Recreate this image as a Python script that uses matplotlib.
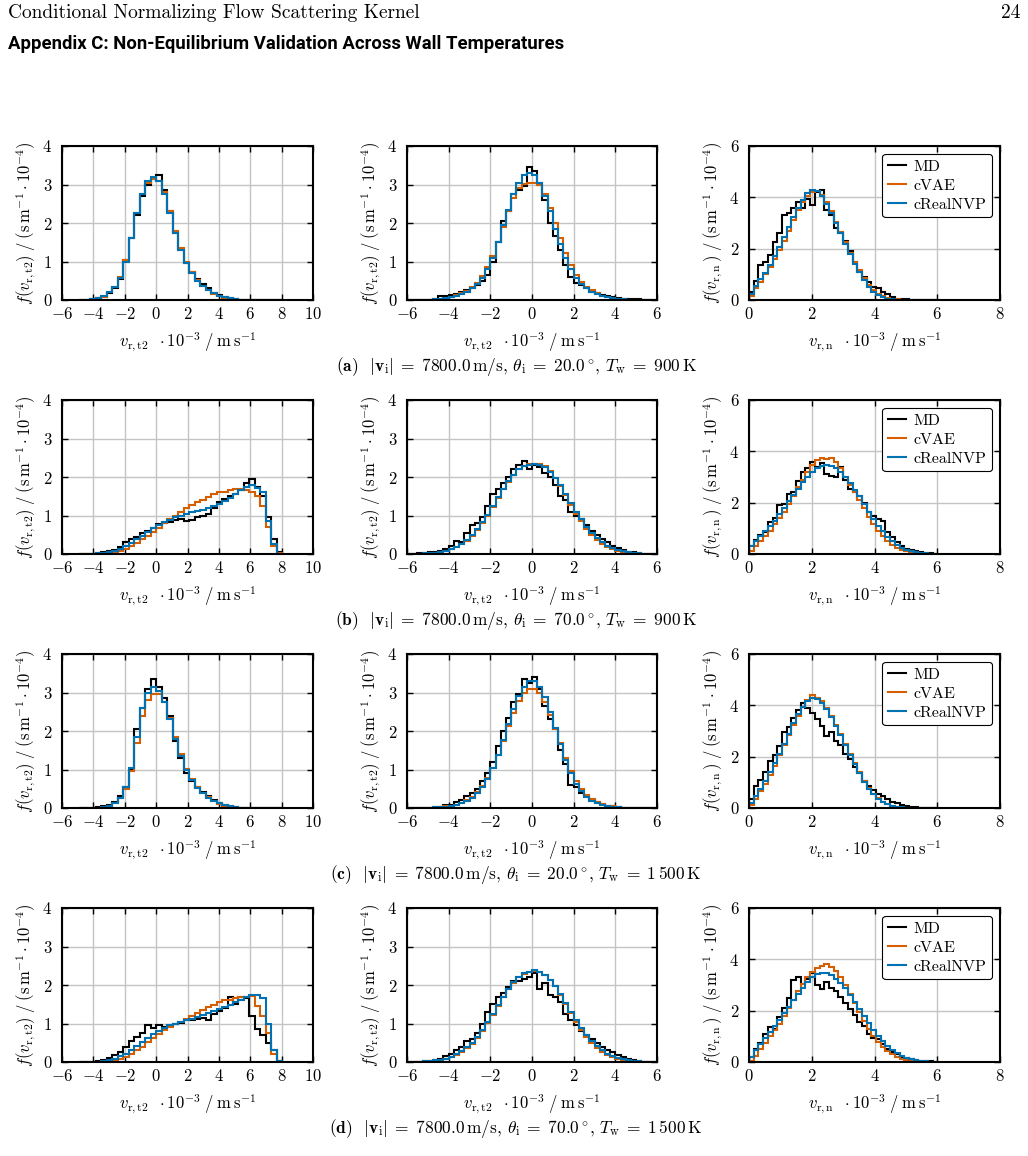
import numpy as np
import matplotlib
matplotlib.use("Agg")
import matplotlib.pyplot as plt

plt.rcParams['font.family'] = 'serif'
plt.rcParams['font.serif'] = ['cmr10']
plt.rcParams['mathtext.fontset'] = 'cm'
plt.rcParams['axes.formatter.use_mathtext'] = True
plt.rcParams['axes.unicode_minus'] = True

# bin edges of the histograms (in 10^3 m/s)
edges_c1 = np.linspace(-4.9, 8.05, 38)
edges_c2 = np.linspace(-6.0, 6.0, 49)
edges_c3 = np.linspace(0.0, 6.0, 41)

# ---- (a) 7800 m/s, 20 deg, 900 K
md_c1_a = [0.0, 0.01, 0.02, 0.04, 0.08, 0.18, 0.32, 0.55, 1.05, 1.6, 2.2, 2.7, 3.0, 3.15, 3.25, 2.85, 2.3, 1.75, 1.3,
           0.95, 0.72, 0.55, 0.42, 0.3, 0.18, 0.12, 0.07, 0.05, 0.02, 0.01, 0, 0, 0, 0, 0, 0, 0]
cvae_c1_a = [0, 0.01, 0.02, 0.04, 0.09, 0.2, 0.35, 0.6, 1.05, 1.6, 2.25, 2.75, 3.05, 3.15, 3.1, 2.8, 2.3, 1.8, 1.35,
             1.0, 0.72, 0.52, 0.37, 0.25, 0.16, 0.1, 0.06, 0.03, 0.015, 0.005, 0, 0, 0, 0, 0, 0, 0]
nvp_c1_a = [0, 0.01, 0.02, 0.05, 0.1, 0.2, 0.33, 0.58, 1.0, 1.6, 2.25, 2.75, 3.1, 3.2, 3.1, 2.75, 2.25, 1.75, 1.3,
            0.95, 0.7, 0.5, 0.36, 0.25, 0.17, 0.11, 0.07, 0.04, 0.02, 0.01, 0, 0, 0, 0, 0, 0, 0]
md_c2_a = [0, 0, 0.005, 0.01, 0.01, 0.02, 0.1, 0.1, 0.12, 0.15, 0.22, 0.25, 0.3, 0.38, 0.5, 0.65, 1.0, 1.5, 2.05, 2.3,
           2.75, 2.85, 2.95, 3.45, 3.35, 3.05, 2.6, 2.0, 1.65, 1.3, 0.9, 0.6, 0.45, 0.4, 0.3, 0.22, 0.18, 0.12, 0.1,
           0.08, 0.05, 0.02, 0.02, 0.03, 0.02, 0.005, 0, 0]
cvae_c2_a = [0, 0, 0, 0.005, 0.01, 0.02, 0.03, 0.05, 0.08, 0.12, 0.17, 0.24, 0.33, 0.45, 0.62, 0.85, 1.15, 1.5, 1.9,
             2.3, 2.65, 2.9, 3.02, 3.05, 3.05, 2.98, 2.75, 2.4, 2.0, 1.6, 1.22, 0.9, 0.65, 0.48, 0.35, 0.25, 0.17,
             0.11, 0.07, 0.05, 0.03, 0.02, 0.01, 0.005, 0, 0, 0, 0]
nvp_c2_a = [0, 0, 0, 0.005, 0.01, 0.02, 0.03, 0.04, 0.07, 0.11, 0.16, 0.22, 0.3, 0.42, 0.58, 0.8, 1.1, 1.5, 1.95, 2.35,
            2.75, 3.05, 3.25, 3.3, 3.25, 3.05, 2.7, 2.3, 1.85, 1.45, 1.1, 0.8, 0.58, 0.42, 0.3, 0.22, 0.15, 0.1, 0.07,
            0.045, 0.03, 0.02, 0.01, 0.005, 0, 0, 0, 0]
md_c3_a = [0.3, 0.75, 1.35, 1.5, 1.75, 2.25, 2.6, 3.3, 3.4, 3.6, 3.8, 3.6, 3.95, 3.7, 4.2, 4.3, 3.5, 3.3, 2.8, 2.6,
           2.3, 1.9, 1.5, 1.1, 0.9, 0.7, 0.5, 0.45, 0.3, 0.25, 0.1, 0.05, 0.03, 0.02, 0.01, 0, 0, 0, 0, 0]
cvae_c3_a = [0.15, 0.45, 0.7, 1.0, 1.3, 1.6, 1.95, 2.3, 2.7, 3.1, 3.5, 3.8, 4.05, 4.2, 4.25, 4.1, 3.8, 3.45, 3.05,
             2.65, 2.25, 1.85, 1.5, 1.15, 0.85, 0.6, 0.4, 0.25, 0.15, 0.08, 0.04, 0.02, 0.01, 0, 0, 0, 0, 0, 0, 0]
nvp_c3_a = [0.25, 0.55, 0.8, 1.05, 1.35, 1.7, 2.05, 2.45, 2.85, 3.25, 3.6, 3.9, 4.15, 4.3, 4.25, 4.05, 3.75, 3.4, 3.0,
            2.6, 2.2, 1.8, 1.42, 1.08, 0.78, 0.52, 0.32, 0.18, 0.1, 0.05, 0.02, 0.01, 0, 0, 0, 0, 0, 0, 0, 0]

# ---- (b) 7800 m/s, 70 deg, 900 K
md_c1_b = [0, 0.005, 0.01, 0.03, 0.05, 0.07, 0.1, 0.18, 0.3, 0.38, 0.45, 0.55, 0.6, 0.68, 0.78, 0.8, 0.82, 0.88, 0.92,
           0.87, 0.88, 0.95, 1.0, 1.05, 1.2, 1.35, 1.42, 1.5, 1.55, 1.65, 1.85, 1.95, 1.75, 1.5, 0.95, 0.4, 0.06]
cvae_c1_b = [0, 0, 0.005, 0.01, 0.02, 0.03, 0.05, 0.08, 0.12, 0.2, 0.28, 0.38, 0.48, 0.58, 0.68, 0.8, 0.9, 1.0, 1.1,
             1.2, 1.28, 1.35, 1.4, 1.48, 1.55, 1.6, 1.6, 1.65, 1.68, 1.7, 1.65, 1.6, 1.5, 1.25, 0.7, 0.2, 0.03]
nvp_c1_b = [0, 0, 0.005, 0.02, 0.03, 0.05, 0.08, 0.12, 0.2, 0.28, 0.38, 0.48, 0.58, 0.68, 0.76, 0.82, 0.88, 0.95, 1.0,
            1.03, 1.08, 1.12, 1.15, 1.2, 1.25, 1.3, 1.38, 1.45, 1.55, 1.65, 1.75, 1.78, 1.72, 1.6, 0.85, 0.25, 0.0]
md_c2_b = [0, 0.01, 0.02, 0.03, 0.04, 0.06, 0.08, 0.12, 0.2, 0.35, 0.3, 0.55, 0.75, 0.8, 0.95, 1.25, 1.55, 1.7, 1.85,
           2.0, 2.2, 2.3, 2.42, 2.2, 2.3, 2.25, 2.1, 2.0, 1.8, 1.5, 1.4, 1.1, 1.0, 0.9, 0.75, 0.6, 0.5, 0.38, 0.3,
           0.22, 0.16, 0.1, 0.06, 0.04, 0.02, 0.01, 0, 0]
cvae_c2_b = [0, 0, 0.01, 0.015, 0.02, 0.03, 0.05, 0.08, 0.12, 0.18, 0.25, 0.35, 0.47, 0.62, 0.8, 1.0, 1.22, 1.45,
             1.68, 1.88, 2.05, 2.2, 2.28, 2.33, 2.35, 2.35, 2.28, 2.15, 1.98, 1.76, 1.52, 1.28, 1.05, 0.85, 0.66, 0.5,
             0.37, 0.27, 0.19, 0.13, 0.08, 0.05, 0.03, 0.02, 0.01, 0.005, 0, 0]
nvp_c2_b = [0, 0, 0.01, 0.015, 0.025, 0.035, 0.055, 0.085, 0.13, 0.19, 0.27, 0.37, 0.49, 0.64, 0.82, 1.02, 1.24, 1.47,
            1.7, 1.9, 2.06, 2.2, 2.28, 2.32, 2.33, 2.32, 2.25, 2.13, 1.97, 1.78, 1.56, 1.33, 1.1, 0.9, 0.71, 0.55,
            0.42, 0.31, 0.22, 0.15, 0.1, 0.07, 0.045, 0.03, 0.02, 0.01, 0.005, 0]
md_c3_b = [0.3, 0.55, 0.75, 0.85, 1.25, 1.4, 1.9, 1.95, 2.35, 2.4, 2.85, 3.2, 3.35, 3.6, 3.4, 3.55, 3.1, 3.05, 3.0,
           3.4, 2.9, 2.55, 2.4, 2.25, 2.0, 1.65, 1.5, 1.35, 1.3, 0.85, 0.65, 0.45, 0.3, 0.2, 0.15, 0.1, 0.07, 0.05,
           0.02, 0.01]
cvae_c3_b = [0.1, 0.3, 0.5, 0.7, 0.9, 1.15, 1.4, 1.65, 1.95, 2.25, 2.6, 2.9, 3.2, 3.45, 3.65, 3.75, 3.72, 3.75, 3.6,
             3.35, 3.0, 2.7, 2.4, 2.1, 1.8, 1.45, 1.15, 0.9, 0.7, 0.5, 0.35, 0.25, 0.16, 0.1, 0.06, 0.03, 0.02, 0.01,
             0, 0]
nvp_c3_b = [0.3, 0.5, 0.7, 0.9, 1.1, 1.3, 1.55, 1.8, 2.05, 2.3, 2.55, 2.8, 3.0, 3.2, 3.35, 3.42, 3.45, 3.42, 3.35,
            3.2, 3.0, 2.75, 2.5, 2.25, 1.95, 1.65, 1.35, 1.1, 0.88, 0.68, 0.5, 0.36, 0.25, 0.17, 0.11, 0.07, 0.04,
            0.02, 0.01, 0]

# ---- (c) 7800 m/s, 20 deg, 1500 K
md_c1_c = [0, 0.005, 0.01, 0.02, 0.04, 0.08, 0.15, 0.3, 0.55, 1.0, 2.05, 2.6, 3.1, 3.35, 3.15, 2.85, 2.4, 1.75, 1.3,
           0.9, 0.7, 0.55, 0.42, 0.3, 0.2, 0.12, 0.07, 0.04, 0.02, 0.01, 0, 0, 0, 0, 0, 0, 0]
cvae_c1_c = [0, 0, 0.005, 0.01, 0.03, 0.06, 0.12, 0.25, 0.5, 0.95, 1.7, 2.4, 2.8, 2.95, 2.95, 2.75, 2.35, 1.85, 1.4,
             1.02, 0.75, 0.55, 0.4, 0.28, 0.18, 0.11, 0.06, 0.03, 0.015, 0.005, 0, 0, 0, 0, 0, 0, 0]
nvp_c1_c = [0, 0, 0.005, 0.01, 0.03, 0.06, 0.13, 0.27, 0.55, 1.05, 1.85, 2.6, 3.0, 3.15, 3.05, 2.75, 2.3, 1.8, 1.35,
            0.98, 0.72, 0.52, 0.38, 0.27, 0.18, 0.12, 0.07, 0.04, 0.02, 0.01, 0, 0, 0, 0, 0, 0, 0]
md_c2_c = [0, 0, 0, 0.005, 0.01, 0.01, 0.02, 0.08, 0.08, 0.15, 0.22, 0.3, 0.4, 0.5, 0.7, 0.9, 1.2, 1.6, 2.0, 2.35,
           2.75, 2.95, 3.35, 3.25, 3.4, 3.1, 2.65, 2.3, 2.05, 1.5, 1.15, 0.6, 0.55, 0.4, 0.3, 0.2, 0.15, 0.1, 0.06,
           0.04, 0.02, 0.01, 0.005, 0, 0, 0, 0, 0]
cvae_c2_c = [0, 0, 0, 0.005, 0.01, 0.015, 0.025, 0.04, 0.06, 0.09, 0.14, 0.2, 0.29, 0.41, 0.57, 0.78, 1.05, 1.38,
             1.75, 2.12, 2.48, 2.78, 2.98, 3.1, 3.1, 2.98, 2.75, 2.42, 2.05, 1.68, 1.3, 0.97, 0.7, 0.5, 0.35, 0.24,
             0.16, 0.1, 0.06, 0.04, 0.02, 0.01, 0.005, 0, 0, 0, 0, 0]
nvp_c2_c = [0, 0, 0, 0.005, 0.01, 0.015, 0.02, 0.035, 0.055, 0.085, 0.13, 0.19, 0.27, 0.39, 0.55, 0.76, 1.03, 1.37,
            1.76, 2.17, 2.57, 2.9, 3.15, 3.3, 3.3, 3.15, 2.88, 2.5, 2.08, 1.65, 1.25, 0.9, 0.63, 0.43, 0.29, 0.19,
            0.12, 0.08, 0.05, 0.03, 0.02, 0.01, 0.005, 0, 0, 0, 0, 0]
md_c3_c = [0.35, 0.85, 1.1, 1.4, 1.85, 2.05, 2.4, 2.95, 3.15, 3.5, 3.8, 4.1, 3.9, 3.7, 3.45, 3.2, 2.8, 2.95, 2.6,
           2.45, 2.1, 1.9, 1.6, 1.35, 1.05, 0.85, 0.7, 0.55, 0.45, 0.35, 0.25, 0.18, 0.12, 0.08, 0.05, 0.03, 0.01,
           0, 0, 0]
cvae_c3_c = [0.1, 0.35, 0.65, 0.95, 1.3, 1.65, 2.05, 2.45, 2.85, 3.25, 3.6, 3.95, 4.2, 4.4, 4.3, 4.15, 3.9, 3.6,
             3.25, 2.9, 2.5, 2.1, 1.75, 1.4, 1.05, 0.78, 0.55, 0.38, 0.25, 0.15, 0.09, 0.05, 0.03, 0.015, 0.005, 0,
             0, 0, 0, 0]
nvp_c3_c = [0.2, 0.45, 0.75, 1.05, 1.4, 1.75, 2.1, 2.5, 2.9, 3.3, 3.65, 3.95, 4.15, 4.3, 4.25, 4.1, 3.85, 3.55, 3.2,
            2.85, 2.45, 2.05, 1.7, 1.35, 1.02, 0.75, 0.53, 0.36, 0.23, 0.14, 0.08, 0.045, 0.02, 0.01, 0, 0, 0, 0,
            0, 0]

# ---- (d) 7800 m/s, 70 deg, 1500 K
md_c1_d = [0, 0.005, 0.01, 0.03, 0.06, 0.1, 0.17, 0.27, 0.4, 0.55, 0.65, 0.75, 0.95, 0.88, 0.95, 0.9, 0.95, 1.0,
           1.02, 1.08, 1.1, 1.12, 1.15, 1.1, 1.25, 1.32, 1.4, 1.7, 1.5, 1.7, 1.65, 1.2, 0.85, 0.7, 0.5, 0.3, 0.03]
cvae_c1_d = [0, 0, 0, 0.005, 0.01, 0.02, 0.04, 0.07, 0.12, 0.2, 0.3, 0.4, 0.52, 0.63, 0.72, 0.82, 0.9, 0.98, 1.05,
             1.12, 1.2, 1.28, 1.35, 1.42, 1.48, 1.55, 1.6, 1.62, 1.65, 1.68, 1.7, 1.72, 1.45, 1.2, 0.75, 0.2, 0.02]
nvp_c1_d = [0, 0, 0.005, 0.01, 0.03, 0.05, 0.09, 0.15, 0.22, 0.32, 0.42, 0.52, 0.62, 0.72, 0.8, 0.88, 0.95, 1.0,
            1.05, 1.08, 1.12, 1.17, 1.22, 1.27, 1.32, 1.37, 1.42, 1.48, 1.55, 1.6, 1.68, 1.73, 1.75, 1.65, 1.0, 0.3,
            0.02]
md_c2_d = [0, 0.005, 0.01, 0.02, 0.03, 0.05, 0.08, 0.15, 0.2, 0.3, 0.38, 0.55, 0.6, 0.75, 1.0, 1.3, 1.5, 1.7, 1.8,
           1.95, 2.1, 2.1, 2.15, 2.2, 2.3, 1.9, 2.05, 1.75, 1.7, 1.55, 1.25, 1.1, 0.95, 0.8, 0.7, 0.6, 0.5, 0.4,
           0.32, 0.25, 0.18, 0.12, 0.08, 0.05, 0.02, 0.01, 0.005, 0]
cvae_c2_d = [0, 0, 0.005, 0.01, 0.02, 0.03, 0.05, 0.08, 0.12, 0.18, 0.26, 0.36, 0.48, 0.63, 0.81, 1.01, 1.23, 1.46,
             1.69, 1.89, 2.06, 2.2, 2.29, 2.34, 2.36, 2.34, 2.27, 2.14, 1.97, 1.75, 1.51, 1.27, 1.04, 0.84, 0.66,
             0.5, 0.37, 0.27, 0.19, 0.13, 0.08, 0.05, 0.03, 0.02, 0.01, 0.005, 0, 0]
nvp_c2_d = [0, 0.005, 0.01, 0.015, 0.025, 0.04, 0.06, 0.09, 0.14, 0.2, 0.28, 0.38, 0.5, 0.65, 0.83, 1.03, 1.25,
            1.48, 1.7, 1.9, 2.07, 2.2, 2.3, 2.35, 2.38, 2.35, 2.27, 2.14, 1.97, 1.76, 1.53, 1.3, 1.08, 0.88, 0.7,
            0.54, 0.41, 0.3, 0.22, 0.15, 0.1, 0.07, 0.045, 0.03, 0.02, 0.01, 0.005, 0]
md_c3_d = [0.2, 0.5, 0.75, 1.1, 1.35, 1.3, 1.75, 2.1, 2.5, 3.2, 3.3, 3.05, 3.25, 3.45, 3.0, 2.85, 3.1, 2.9, 2.75,
           2.55, 2.3, 2.05, 1.85, 1.55, 1.4, 1.1, 0.95, 0.9, 0.7, 0.5, 0.4, 0.3, 0.2, 0.15, 0.12, 0.08, 0.05, 0.03,
           0.02, 0.01]
cvae_c3_d = [0.05, 0.25, 0.5, 0.75, 1.0, 1.25, 1.5, 1.8, 2.1, 2.4, 2.75, 3.05, 3.3, 3.5, 3.65, 3.75, 3.8, 3.7, 3.55,
             3.3, 3.0, 2.65, 2.3, 1.95, 1.6, 1.3, 1.0, 0.78, 0.58, 0.42, 0.3, 0.2, 0.13, 0.08, 0.05, 0.03, 0.015,
             0.005, 0, 0]
nvp_c3_d = [0.2, 0.45, 0.7, 0.95, 1.15, 1.4, 1.65, 1.9, 2.15, 2.4, 2.65, 2.9, 3.1, 3.3, 3.42, 3.48, 3.45, 3.38,
            3.25, 3.08, 2.88, 2.62, 2.35, 2.08, 1.8, 1.52, 1.25, 1.0, 0.8, 0.62, 0.47, 0.35, 0.25, 0.17, 0.11, 0.07,
            0.04, 0.02, 0.01, 0]

case_labels = ['(a)', '(b)', '(c)', '(d)']
case_theta = ['20.0', '70.0', '20.0', '70.0']
case_tw = ['900', '900', '1\\,500', '1\\,500']
series_names = ['MD', 'cVAE', 'cRealNVP']
series_colors = ['black', '#D55E00', '#0072B2']

rows = [
    [(md_c1_a, cvae_c1_a, nvp_c1_a), (md_c2_a, cvae_c2_a, nvp_c2_a), (md_c3_a, cvae_c3_a, nvp_c3_a)],
    [(md_c1_b, cvae_c1_b, nvp_c1_b), (md_c2_b, cvae_c2_b, nvp_c2_b), (md_c3_b, cvae_c3_b, nvp_c3_b)],
    [(md_c1_c, cvae_c1_c, nvp_c1_c), (md_c2_c, cvae_c2_c, nvp_c2_c), (md_c3_c, cvae_c3_c, nvp_c3_c)],
    [(md_c1_d, cvae_c1_d, nvp_c1_d), (md_c2_d, cvae_c2_d, nvp_c2_d), (md_c3_d, cvae_c3_d, nvp_c3_d)],
]
col_edges = [edges_c1, edges_c2, edges_c3]
col_xlim = [(-6, 10), (-6, 6), (0, 8)]
col_ylim = [(0, 4), (0, 4), (0, 6)]
col_yticks = [[0, 1, 2, 3, 4], [0, 1, 2, 3, 4], [0, 2, 4, 6]]
t2_ylabel = r'$f(v_{\rm r,t2})\;/\;(\mathrm{s\,m^{-1}}\cdot 10^{-4})$'
n_ylabel = r'$f(v_{\rm r,n}\,)\;/\;(\mathrm{s\,m^{-1}}\cdot 10^{-4})$'
t2_xlabel = r'$v_{\rm r,t2}\;\;\cdot 10^{-3}\;/\;\mathrm{m\,s^{-1}}$'
n_xlabel = r'$v_{\rm r,n}\;\;\cdot 10^{-3}\;/\;\mathrm{m\,s^{-1}}$'
col_ylabels = [t2_ylabel, t2_ylabel, n_ylabel]
col_xlabels = [t2_xlabel, t2_xlabel, n_xlabel]

W, H = 1028, 1156
fig = plt.figure(figsize=(W / 100, H / 100), dpi=100)

fig.text(8 / W, 1 - 13 / H, 'Conditional Normalizing Flow Scattering Kernel', fontsize=14, va='center')
fig.text(1020 / W, 1 - 13 / H, '24', fontsize=14, va='center', ha='right')
fig.text(8 / W, 1 - 44 / H, 'Appendix C: Non-Equilibrium Validation Across Wall Temperatures',
         family=['Roboto', 'DejaVu Sans'], fontweight='bold', fontsize=13.3, va='center')

col_px = [(62, 313), (407, 657), (749, 1000)]
row_top = [146, 400, 654, 908]
ax_h = 154

for r in range(4):
    for c in range(3):
        x0, x1 = col_px[c]
        y0 = row_top[r]
        ax = fig.add_axes([x0 / W, 1 - (y0 + ax_h) / H, (x1 - x0) / W, ax_h / H])
        for vals, name, color in zip(rows[r][c], series_names, series_colors):
            ax.stairs(vals, col_edges[c], color=color, lw=1.5, label=name, baseline=0)
        ax.set_xlim(*col_xlim[c])
        ax.set_ylim(*col_ylim[c])
        ax.set_xticks(np.arange(col_xlim[c][0], col_xlim[c][1] + 1, 2))
        ax.set_yticks(col_yticks[c])
        ax.grid(True, color='#c4c4c4', lw=1.0)
        ax.set_axisbelow(True)
        ax.tick_params(direction='in', top=True, right=True, length=4, width=1.0, labelsize=12)
        ax.tick_params(axis='x', pad=4.5)
        ax.tick_params(axis='y', pad=7)
        for sp in ax.spines.values():
            sp.set_linewidth(1.5)
        ax.set_xlabel(col_xlabels[c], fontsize=12, labelpad=6)
        ax.set_ylabel(col_ylabels[c], fontsize=12, labelpad=3)
        if c == 2:
            leg = ax.legend(loc='upper right', fancybox=True, edgecolor='black', framealpha=1, fontsize=11.5,
                            handlelength=1.1, handletextpad=0.5, labelspacing=0.3, borderpad=0.35,
                            borderaxespad=0.5)
            leg.get_frame().set_linewidth(0.8)
    caption = (r'$\mathbf{' + case_labels[r] + r'}$  $|\mathbf{v}_{\rm i}|\;=\;7800.0\,\mathrm{m/s}$, '
               r'$\theta_{\rm i}\;=\;' + case_theta[r] + r'\,^{\circ}$, $T_{\rm w}\;=\;' + case_tw[r] +
               r'\,\mathrm{K}$')
    fig.text(516 / W, 1 - (366 + 254 * r) / H, caption, fontsize=12.5, ha='center', va='center')

fig.savefig('out.png', dpi=100)
